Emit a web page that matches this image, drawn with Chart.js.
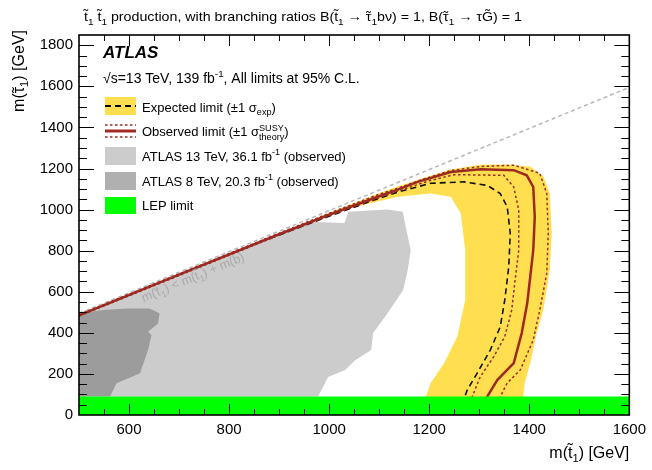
<!DOCTYPE html>
<html>
<head>
<meta charset="utf-8">
<script src="https://cdn.jsdelivr.net/npm/chart.js@4.4.0/dist/chart.umd.min.js"></script>
<style>
  html, body { margin: 0; padding: 0; background: #fff; }
</style>
</head>
<body>
<canvas id="limitChart" width="652" height="470"></canvas>
<script>
// tick labels
const xTicks = [600, 800, 1000, 1200, 1400, 1600];
const yTicks = [0, 200, 400, 600, 800, 1000, 1200, 1400, 1600, 1800];

// kinematic boundary m(stau) = m(stop) - m(b)
const kinX = [500, 1600];
const kinY = [495, 1595];

// LEP limit
const lepX = [500, 1600, 1600, 500];
const lepY = [0, 0, 90, 90];

// ATLAS 13 TeV, 36.1 fb-1 observed
const atlas13X = [500, 500, 700, 900, 939, 972, 1031, 1038, 1117, 1147, 1153, 1163, 1157, 1148, 1117, 1088, 1084, 1052, 1032, 998, 978];
const atlas13Y = [90, 484, 681, 878, 915, 940, 935, 989, 1000, 989, 916, 802, 705, 608, 496, 399, 316, 267, 219, 185, 90];

// ATLAS 8 TeV, 20.3 fb-1 observed
const atlas8X = [500, 500, 548, 595, 641, 661, 658, 638, 645, 638, 622, 575, 562];
const atlas8Y = [90, 494, 511, 519, 519, 495, 446, 405, 389, 316, 203, 154, 90];

// expected +-1 sigma band (outer edge then inner edge)
const bandX = [880, 1000, 1100, 1137, 1203, 1243, 1303, 1355, 1402, 1428, 1441, 1445, 1441, 1428, 1415, 1402, 1391, 1388, 1388,
               1193, 1193, 1203, 1230, 1256, 1272, 1272, 1263, 1243, 1203, 1137, 1038, 960, 880];
const bandY = [858, 985, 1080, 1112, 1165, 1195, 1218, 1220, 1210, 1162, 1078, 885, 705, 511, 399, 253, 156, 89, 60,
               60, 89, 156, 253, 381, 559, 802, 982, 1062, 1078, 1062, 1005, 935, 858];

// expected limit
const expX = [880, 1000, 1100, 1137, 1203, 1270, 1316, 1342, 1356, 1362, 1359, 1351, 1342, 1322, 1296, 1276, 1270];
const expY = [858, 968, 1055, 1085, 1128, 1135, 1118, 1078, 1013, 885, 721, 559, 429, 316, 204, 122, 80];

// observed limit
const obsX = [500, 700, 900, 1000, 1100, 1137, 1177, 1243, 1303, 1369, 1395, 1408, 1411, 1408, 1402, 1396, 1385, 1369, 1336, 1316, 1312];
const obsY = [485, 683, 880, 975, 1065, 1097, 1135, 1183, 1196, 1192, 1167, 1110, 964, 802, 673, 545, 399, 253, 170, 89, 70];

// observed +1 sigma theory
const obsUpX = [500, 700, 900, 1000, 1100, 1137, 1190, 1243, 1303, 1369, 1421, 1435, 1438, 1435, 1421, 1408, 1382, 1356, 1342, 1340];
const obsUpY = [489, 687, 885, 982, 1075, 1104, 1150, 1190, 1210, 1216, 1177, 1078, 885, 690, 511, 365, 219, 156, 89, 70];

// observed -1 sigma theory
const obsDnX = [500, 700, 900, 1000, 1100, 1137, 1200, 1250, 1349, 1369, 1379, 1379, 1371, 1365, 1351, 1329, 1302, 1286, 1283];
const obsDnY = [482, 679, 876, 970, 1058, 1090, 1140, 1170, 1167, 1110, 997, 802, 642, 511, 381, 284, 186, 89, 70];

const pts = (xs, ys) => xs.map((x, i) => ({ x: x, y: ys[i] }));

const FAMILY = '"Liberation Sans", Arial, sans-serif';
const font = (size, style) => (style || '') + ' ' + size + 'px ' + FAMILY;

// parts: plain strings, {t, tilde} for a letter with a tilde, {sub, sup} for indices
function drawRich(ctx, parts, x, y, size, opt) {
  opt = opt || {};
  const items = parts.map(p => typeof p === 'string' ? { t: p } : Object.assign({}, p));
  const measure = (t, s) => { ctx.font = font(s, opt.style); return ctx.measureText(t).width; };
  let total = 0;
  for (const it of items) {
    if (it.t !== undefined) it.w = measure(it.t, size);
    else it.w = Math.max(it.sub ? measure(it.sub, size * 0.7) : 0, it.sup ? measure(it.sup, size * 0.7) : 0);
    total += it.w;
  }
  const sx = opt.width ? opt.width / total : 1;
  const shift = opt.align === 'right' ? -total * sx : (opt.align === 'center' ? -total * sx / 2 : 0);
  ctx.save();
  ctx.translate(x, y);
  if (opt.rotate) ctx.rotate(opt.rotate);
  ctx.translate(shift, 0);
  ctx.scale(sx, 1);
  ctx.fillStyle = opt.color || '#000';
  ctx.textAlign = 'left';
  ctx.textBaseline = 'alphabetic';
  let pos = 0;
  for (const it of items) {
    if (it.t !== undefined) {
      ctx.font = font(size, opt.style);
      ctx.fillText(it.t, pos, 0);
      if (it.tilde) {
        const tw = ctx.measureText('\u02dc').width;
        ctx.fillText('\u02dc', pos + (it.w - tw) / 2, it.tilde === 'high' ? -size * 0.18 : size * 0.02);
      }
    } else {
      ctx.font = font(size * 0.7, opt.style);
      if (it.sub) ctx.fillText(it.sub, pos, size * 0.28);
      if (it.sup) ctx.fillText(it.sup, pos, -size * 0.42);
    }
    pos += it.w;
  }
  ctx.restore();
}

// frame with inward ticks on all four sides
const framePlugin = {
  id: 'frame',
  afterDatasetsDraw(chart) {
    const { ctx, chartArea: a, scales: { x, y } } = chart;
    ctx.save();
    ctx.strokeStyle = '#000';
    ctx.lineWidth = 1;
    ctx.beginPath();
    for (let v = 550; v < 1600; v += 50) {
      const px = Math.round(x.getPixelForValue(v)) + 0.5;
      const len = v % 200 === 0 ? 11 : 6;
      ctx.moveTo(px, a.bottom); ctx.lineTo(px, a.bottom - len);
      ctx.moveTo(px, a.top); ctx.lineTo(px, a.top + len);
    }
    for (let v = 50; v < 1850; v += 50) {
      const py = Math.round(y.getPixelForValue(v)) + 0.5;
      const len = v % 200 === 0 ? 15 : 8;
      ctx.moveTo(a.left, py); ctx.lineTo(a.left + len, py);
      ctx.moveTo(a.right, py); ctx.lineTo(a.right - len, py);
    }
    ctx.stroke();
    ctx.lineWidth = 1.6;
    ctx.strokeRect(a.left, a.top, a.right - a.left, a.bottom - a.top);
    ctx.restore();
  }
};

// title, legend, axis titles, boundary label
const textPlugin = {
  id: 'texts',
  afterDraw(chart) {
    const { ctx, chartArea: a, scales: { x, y } } = chart;
    const T = { t: 't', tilde: 'high' }, TAU = { t: '\u03c4', tilde: 'low' }, G = { t: 'G', tilde: 'high' };
    const one = { sub: '1' };

    drawRich(ctx, [T, one, ' ', T, one, ' production, with branching ratios B(', T, one,
      ' \u2192 ', TAU, one, 'b\u03bd) = 1, B(', TAU, one, ' \u2192 \u03c4', G, ') = 1'],
      84, 21, 13, { width: 438 });

    drawRich(ctx, ['m(', T, one, ') [GeV]'], a.right, 458, 16, { align: 'right' });
    drawRich(ctx, ['m(', TAU, one, ') [GeV]'], 24, 30, 16, { align: 'right', rotate: -Math.PI / 2 });

    // label along the kinematic boundary
    const p0x = x.getPixelForValue(kinX[0]), p0y = y.getPixelForValue(kinY[0]);
    const p1x = x.getPixelForValue(kinX[1]), p1y = y.getPixelForValue(kinY[1]);
    const ang = Math.atan2(p1y - p0y, p1x - p0x);
    const mx = x.getPixelForValue(720), my = y.getPixelForValue(715);
    const off = 14;
    drawRich(ctx, ['m(', TAU, one, ') < m(', T, one, ') + m(b)'],
      mx - Math.sin(ang) * off, my + Math.cos(ang) * off, 12.5, { align: 'center', rotate: ang, color: '#a9a9a9' });

    drawRich(ctx, ['ATLAS'], 103, 58, 17, { style: 'italic bold' });
    drawRich(ctx, ['\u221As=13 TeV, 139 fb', { sup: '-1' }, ', All limits at 95% C.L.'], 103, 83, 14);

    const bx = 105, bw = 31;
    ctx.save();
    ctx.fillStyle = '#ffdf4f';
    ctx.fillRect(bx, 97, bw, 18);
    ctx.strokeStyle = '#000';
    ctx.lineWidth = 2;
    ctx.setLineDash([6, 4]);
    ctx.beginPath(); ctx.moveTo(bx, 106); ctx.lineTo(bx + bw, 106); ctx.stroke();

    ctx.strokeStyle = '#9c2a22';
    ctx.setLineDash([]);
    ctx.lineWidth = 3;
    ctx.beginPath(); ctx.moveTo(bx, 131); ctx.lineTo(bx + bw, 131); ctx.stroke();
    ctx.lineWidth = 1.5;
    ctx.setLineDash([2.5, 2.5]);
    ctx.beginPath();
    ctx.moveTo(bx, 125); ctx.lineTo(bx + bw, 125);
    ctx.moveTo(bx, 137); ctx.lineTo(bx + bw, 137);
    ctx.stroke();

    ctx.fillStyle = '#cccccc'; ctx.fillRect(bx, 147, bw, 18);
    ctx.fillStyle = '#b0b0b0'; ctx.fillRect(bx, 172, bw, 18);
    ctx.fillStyle = '#00ff00'; ctx.fillRect(bx, 197, bw, 17);
    ctx.restore();

    drawRich(ctx, ['Expected limit (\u00b11 \u03c3', { sub: 'exp' }, ')'], 142, 111.5, 13);
    drawRich(ctx, ['Observed limit (\u00b11 \u03c3', { sub: 'theory', sup: 'SUSY' }, ')'], 142, 136, 13);
    drawRich(ctx, ['ATLAS 13 TeV, 36.1 fb', { sup: '-1' }, ' (observed)'], 142, 160.5, 13);
    drawRich(ctx, ['ATLAS 8 TeV, 20.3 fb', { sup: '-1' }, ' (observed)'], 142, 185.5, 13);
    drawRich(ctx, ['LEP limit'], 142, 210, 13);
  }
};

const area = (label, xs, ys, color, order) => ({
  label: label, data: pts(xs, ys), order: order,
  fill: 'shape', backgroundColor: color, borderColor: 'rgba(0,0,0,0)', borderWidth: 0,
  pointRadius: 0, tension: 0
});
const curve = (label, xs, ys, color, width, dash, order) => ({
  label: label, data: pts(xs, ys), order: order,
  fill: false, borderColor: color, borderWidth: width, borderDash: dash,
  pointRadius: 0, tension: 0
});

new Chart(document.getElementById('limitChart').getContext('2d'), {
  type: 'line',
  data: {
    datasets: [
      area('LEP limit', lepX, lepY, '#00ff00', 0),
      curve('Observed limit', obsX, obsY, '#9c2a22', 2.5, [], 1),
      curve('Observed +1 sigma theory', obsUpX, obsUpY, '#9c2a22', 1.5, [2.5, 2.5], 2),
      curve('Observed -1 sigma theory', obsDnX, obsDnY, '#9c2a22', 1.5, [2.5, 2.5], 3),
      curve('Expected limit', expX, expY, '#111111', 1.6, [6, 4], 4),
      curve('Kinematic limit', kinX, kinY, '#b8b8b8', 1.5, [4, 3], 5),
      area('Expected +-1 sigma', bandX, bandY, '#ffdf4f', 6),
      area('ATLAS 8 TeV', atlas8X, atlas8Y, '#9c9c9c', 7),
      area('ATLAS 13 TeV', atlas13X, atlas13Y, '#cccccc', 8)
    ]
  },
  options: {
    responsive: false,
    animation: false,
    devicePixelRatio: 1,
    layout: { padding: { top: 35, right: 19, left: 0, bottom: 0 } },
    plugins: { legend: { display: false }, tooltip: { enabled: false } },
    scales: {
      x: {
        type: 'linear', min: 500, max: 1600,
        grid: { display: false, drawTicks: false },
        border: { display: false },
        afterBuildTicks: s => { s.ticks = xTicks.map(v => ({ value: v })); },
        afterFit: s => { s.height = 55; },
        ticks: { padding: 6, color: '#000', font: { family: FAMILY, size: 15 }, callback: v => String(v) }
      },
      y: {
        type: 'linear', min: 0, max: 1850,
        grid: { display: false, drawTicks: false },
        border: { display: false },
        afterBuildTicks: s => { s.ticks = yTicks.map(v => ({ value: v })); },
        afterFit: s => { s.width = 79; },
        ticks: { padding: 6, color: '#000', font: { family: FAMILY, size: 15 }, callback: v => String(v) }
      }
    }
  },
  plugins: [framePlugin, textPlugin]
});
</script>
</body>
</html>
